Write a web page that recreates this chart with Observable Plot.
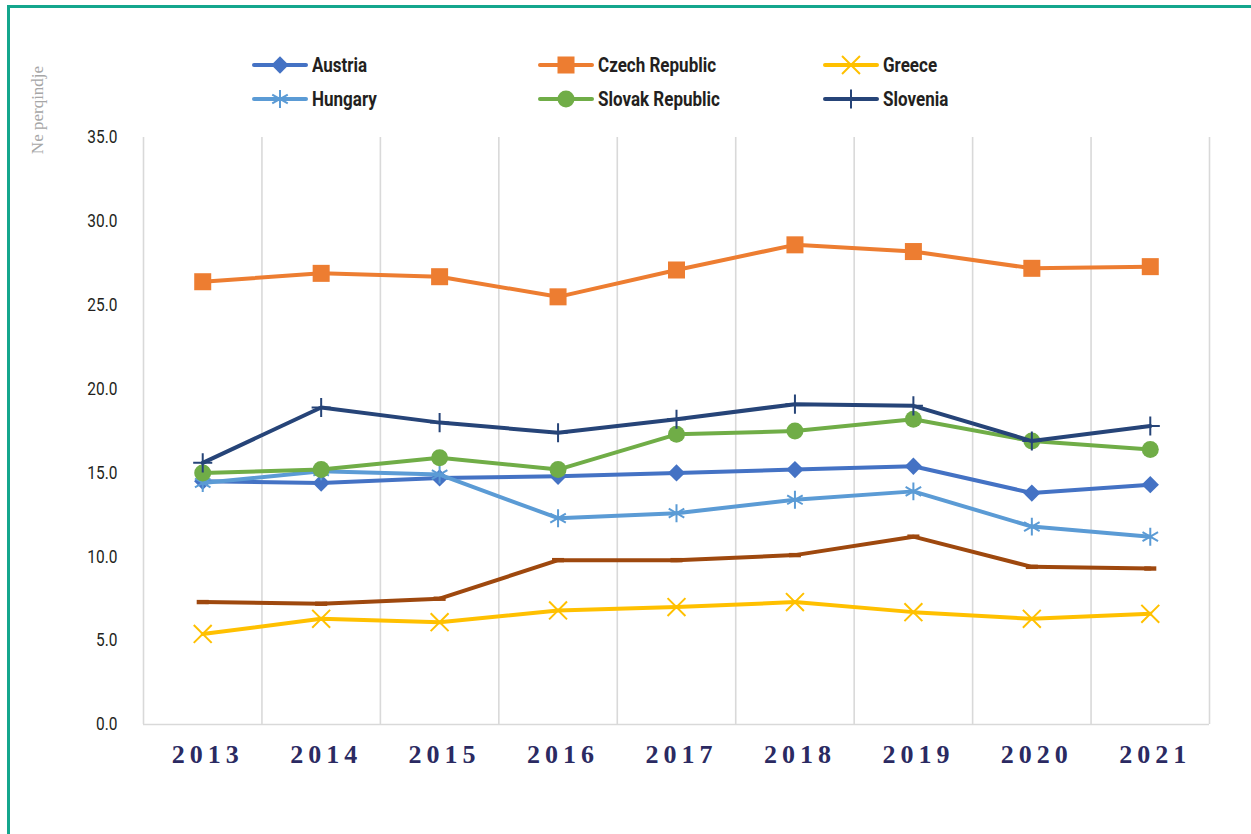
<!DOCTYPE html>
<html>
<head>
<meta charset="utf-8">
<script src="https://cdn.jsdelivr.net/npm/d3@7"></script>
<script src="https://cdn.jsdelivr.net/npm/@observablehq/plot@0.6"></script>
<style>
  html, body { margin: 0; padding: 0; background: #fff; overflow: hidden; }
  #wrap { position: relative; width: 1251px; height: 834px; overflow: hidden; }
  #frame { position: absolute; left: 7px; top: 5px; width: 1400px; height: 1000px;
           border-top: 3px solid #14a68d; border-left: 3px solid #14a68d; }
  #chart { position: absolute; left: 0; top: 0; }
  #ylabel { position: absolute; left: 38px; top: 110px; transform: translate(-50%, -50%) rotate(-90deg);
            font-family: "Liberation Serif", "DejaVu Serif", serif; font-size: 17px; color: #a6a6a6; white-space: nowrap; }
  .leg { position: absolute; display: flex; align-items: center; height: 24px;
         font-family: "Roboto", sans-serif; font-weight: bold; font-size: 21px; color: #231f20; white-space: nowrap; }
  .leg svg { margin-right: 4px; flex: none; }
  .leg span { display: inline-block; transform: scaleX(0.81); transform-origin: left center; }
</style>
</head>
<body>
<div id="wrap">
  <div id="frame"></div>
  <div id="chart"></div>
  <div id="ylabel">Ne perqindje</div>
  <div id="legend"></div>
</div>
<script>
const years = [2013, 2014, 2015, 2016, 2017, 2018, 2019, 2020, 2021];
const austria  = [14.5, 14.4, 14.7, 14.8, 15.0, 15.2, 15.4, 13.8, 14.3];
const czech    = [26.4, 26.9, 26.7, 25.5, 27.1, 28.6, 28.2, 27.2, 27.3];
const greece   = [5.4, 6.3, 6.1, 6.8, 7.0, 7.3, 6.7, 6.3, 6.6];
const hungary  = [14.4, 15.1, 14.9, 12.3, 12.6, 13.4, 13.9, 11.8, 11.2];
const slovak   = [15.0, 15.2, 15.9, 15.2, 17.3, 17.5, 18.2, 16.9, 16.4];
const slovenia = [15.6, 18.9, 18.0, 17.4, 18.2, 19.1, 19.0, 16.9, 17.8];
const unlabeled = [7.3, 7.2, 7.5, 9.8, 9.8, 10.1, 11.2, 9.4, 9.3];
const yTicks = [0, 5, 10, 15, 20, 25, 30, 35];
const gridX = [2012.5, 2013.5, 2014.5, 2015.5, 2016.5, 2017.5, 2018.5, 2019.5, 2020.5, 2021.5];

const dashSymbol = {
  draw(ctx, size) {
    const w = Math.sqrt(size);
    ctx.rect(-w / 2, -2.2, w, 4.4);
  }
};

const series = [
  {name: "Austria", values: austria, color: "#4472c4", symbol: "diamond2", r: 7.8, filled: true, legend: true},
  {name: "Czech Republic", values: czech, color: "#ed7d31", symbol: "square", r: 9.6, filled: true, legend: true},
  {name: "Greece", values: greece, color: "#ffc000", symbol: "times", r: 8.2, filled: false, legend: true},
  {name: "Hungary", values: hungary, color: "#5b9bd5", symbol: "asterisk", r: 8.5, filled: false, legend: true},
  {name: "Slovak Republic", values: slovak, color: "#70ad47", symbol: "circle", r: 8.5, filled: true, legend: true},
  {name: "Slovenia", values: slovenia, color: "#264478", symbol: "plus", r: 6.2, filled: false, legend: true},
  {name: "", values: unlabeled, color: "#9e480e", symbol: dashSymbol, r: 6.8, filled: true, legend: false}
];

const marks = [
  Plot.ruleX(gridX, {y1: 0, y2: 35, stroke: "#d9d9d9", strokeWidth: 1.6}),
  Plot.ruleY([0], {stroke: "#d9d9d9", strokeWidth: 1.6}),
  Plot.axisY({ticks: yTicks, tickFormat: d => d.toFixed(1), tickSize: 0, tickPadding: 26, label: null,
    fontSize: 18, fontFamily: "Roboto, sans-serif", fill: "#231f20"}),
  Plot.axisX({ticks: years, tickFormat: d => String(d), tickSize: 0, tickPadding: 20, label: null, dx: 5,
    fontSize: 26, fontWeight: "bold", fontFamily: "'Liberation Serif', 'DejaVu Serif', serif", fill: "#2b2a62"})
];

for (const s of series) {
  const data = years.map((y, i) => ({year: y, value: s.values[i]}));
  marks.push(Plot.line(data, {x: "year", y: "value", stroke: s.color, strokeWidth: 4,
    strokeLinecap: "round", strokeLinejoin: "round"}));
  marks.push(Plot.dot(data, {x: "year", y: "value", symbol: () => s.symbol, r: s.r,
    fill: s.filled ? s.color : "none", stroke: s.color, strokeWidth: s.filled ? 0 : 2}));
}

const chart = Plot.plot({
  width: 1251,
  height: 834,
  marginLeft: 143,
  marginRight: 42,
  marginTop: 137,
  marginBottom: 110,
  style: {background: "transparent", overflow: "visible"},
  x: {domain: [2012.5, 2021.5], axis: null},
  y: {domain: [0, 35], axis: null},
  symbol: {type: "identity"},
  marks
});
document.getElementById("chart").appendChild(chart);

// year labels: letter spacing; y tick labels: condensed
d3.select(chart).selectAll("g[aria-label='x-axis tick label'] text").style("letter-spacing", "5px");
d3.select(chart).selectAll("g[aria-label='y-axis tick label'] text").each(function() {
  const t = this.getAttribute("transform") || "";
  this.setAttribute("transform", t + " scale(0.86,1)");
});

// legend
const legendPos = [[252, 65], [538, 65], [823, 65], [252, 99], [538, 99], [823, 99]];
const legendDiv = d3.select("#legend");
const symMap = {diamond2: d3.symbolDiamond2, square: d3.symbolSquare, times: d3.symbolTimes,
  asterisk: d3.symbolAsterisk, circle: d3.symbolCircle, plus: d3.symbolPlus};
series.filter(s => s.legend).forEach((s, i) => {
  const [lx, ly] = legendPos[i];
  const item = legendDiv.append("div").attr("class", "leg")
    .style("left", lx + "px").style("top", (ly - 12) + "px");
  const svg = item.append("svg").attr("width", 56).attr("height", 24);
  svg.append("line").attr("x1", 2).attr("x2", 54).attr("y1", 12).attr("y2", 12)
    .attr("stroke", s.color).attr("stroke-width", 4).attr("stroke-linecap", "round");
  svg.append("path").attr("transform", "translate(28,12)")
    .attr("d", d3.symbol(symMap[s.symbol], s.r * s.r * Math.PI)())
    .attr("fill", s.filled ? s.color : "none").attr("stroke", s.color).attr("stroke-width", s.filled ? 0 : 2);
  item.append("span").text(s.name);
});
</script>
</body>
</html>
